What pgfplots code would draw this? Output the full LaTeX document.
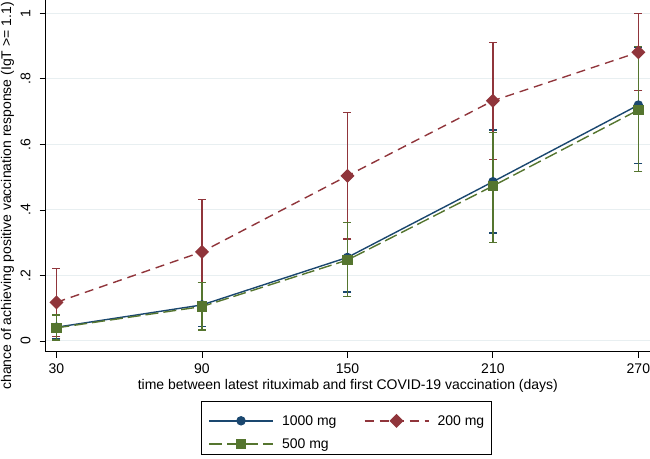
\documentclass[border=0pt]{standalone}
\usepackage{fontspec}
\setmainfont{Liberation Sans}
\usepackage{pgfplots}
\usepackage{pgfplotstable}
\pgfplotsset{compat=1.18}
\definecolor{snavy}{RGB}{26,71,111}
\definecolor{smaroon}{RGB}{144,53,59}
\definecolor{sgreen}{RGB}{85,117,47}
\definecolor{gridc}{RGB}{232,239,241}

% 1000 mg
\pgfplotstableread{
x y lo hi
30 0.042 0.007 0.080
90 0.110 0.044 0.178
150 0.255 0.150 0.361
210 0.486 0.329 0.644
270 0.720 0.542 0.895
}\tblA
% 200 mg
\pgfplotstableread{
x y lo hi
30 0.118 0.013 0.222
90 0.272 0.112 0.432
150 0.504 0.311 0.697
210 0.733 0.554 0.910
270 0.881 0.764 1.000
}\tblB
% 500 mg
\pgfplotstableread{
x y lo hi
30 0.040 0.003 0.079
90 0.105 0.034 0.178
150 0.247 0.135 0.361
210 0.473 0.300 0.636
270 0.705 0.517 0.898
}\tblC

\newcommand{\fs}{\fontsize{14bp}{16.8bp}\selectfont}

\begin{document}
\begin{tikzpicture}
\path[use as bounding box] (0,0) rectangle (650bp,459bp);
\begin{axis}[
  at={(45.7bp,107.3bp)}, anchor=south west,
  scale only axis, width=604.3bp, height=351.7bp,
  xmin=25.55, xmax=274.8, ymin=-0.0327, ymax=1.0406,
  axis lines*=left,
  axis line style={black, line width=0.8bp},
  tick style={black, line width=0.8bp},
  tick align=outside, major tick length=6bp,
  xtick={30,90,150,210,270},
  xticklabels={30,90,150,210,270},
  ytick={0,0.2,0.4,0.6,0.8,1},
  yticklabels={0,.2,.4,.6,.8,1},
  minor tick num=0,
  ymajorgrids, major grid style={color=gridc, line width=1bp},
  font=\fs,
  tick label style={font=\fs},
  xticklabel style={anchor=north, inner sep=0pt},
  xticklabel shift=6bp,
  yticklabel style={rotate=90, anchor=south, inner sep=0pt},
  yticklabel shift=9bp,
  xlabel={time between latest rituximab and first COVID-19 vaccination (days)},
  ylabel={chance of achieving positive vaccination response (IgT >= 1.1)},
  every axis x label/.style={at={(axis description cs:0.5,0)}, anchor=base, yshift=-38.3bp, font=\fs},
  every axis y label/.style={at={(axis description cs:-0.0574,0.4427)}, rotate=90, anchor=base, font=\fs},
  legend columns=2,
  legend cell align=left,
  legend style={at={(axis description cs:0.4974,-0.1402)}, anchor=north,
    draw=black, line width=0.6bp, fill=white,
    inner xsep=6.7bp, inner ysep=4bp,
    nodes={inner sep=0pt},
    row sep=12.1bp,
    font=\fs,
    /tikz/every odd column/.append style={column sep=8.3bp, yshift=4.5bp},
    /tikz/every even column/.append style={column sep=27.3bp, anchor=base west},
    /tikz/row 1 column 2/.append style={text height=20bp},
    /tikz/row 1 column 4/.append style={text height=20bp}},
  legend image code/.code={
    \draw[mark repeat=2, mark phase=2, #1] plot coordinates {(0bp,0bp) (32bp,0bp) (64bp,0bp)};
  },
]
% error bars (drawn first)
\addplot[snavy, line width=1.4bp, only marks, mark=*, mark size=0.1bp, forget plot,
  error bars/.cd, y dir=both, y explicit, error mark=|,
  error bar style={snavy, line width=1.4bp, solid},
  error mark options={snavy, mark size=4bp, line width=1.4bp, solid}]
  table[x=x, y=y, y error plus expr=\thisrow{hi}-\thisrow{y}, y error minus expr=\thisrow{y}-\thisrow{lo}] {\tblA};
\addplot[smaroon, line width=1.4bp, only marks, mark=*, mark size=0.1bp, forget plot,
  error bars/.cd, y dir=both, y explicit, error mark=|,
  error bar style={smaroon, line width=1.4bp, solid},
  error mark options={smaroon, mark size=4bp, line width=1.4bp, solid}]
  table[x=x, y=y, y error plus expr=\thisrow{hi}-\thisrow{y}, y error minus expr=\thisrow{y}-\thisrow{lo}] {\tblB};
\addplot[sgreen, line width=1.4bp, only marks, mark=*, mark size=0.1bp, forget plot,
  error bars/.cd, y dir=both, y explicit, error mark=|,
  error bar style={sgreen, line width=1.4bp, solid},
  error mark options={sgreen, mark size=4bp, line width=1.4bp, solid}]
  table[x=x, y=y, y error plus expr=\thisrow{hi}-\thisrow{y}, y error minus expr=\thisrow{y}-\thisrow{lo}] {\tblC};
% lines
\addplot[snavy, line width=1.4bp, mark=*, mark size=4bp, mark options={solid, fill=snavy}]
  table[x=x, y=y] {\tblA};
\addlegendentry{1000 mg}
\addplot[smaroon, line width=1.4bp, dash pattern=on 9bp off 6bp, mark=square*, mark size=4.25bp, mark options={solid, rotate=45, fill=smaroon}]
  table[x=x, y=y] {\tblB};
\addlegendentry{200 mg}
\addplot[sgreen, line width=1.4bp, dash pattern=on 13bp off 5bp, mark=square*, mark size=4.5bp, mark options={solid, fill=sgreen}]
  table[x=x, y=y] {\tblC};
\addlegendentry{500 mg}
\end{axis}
\end{tikzpicture}
\end{document}
